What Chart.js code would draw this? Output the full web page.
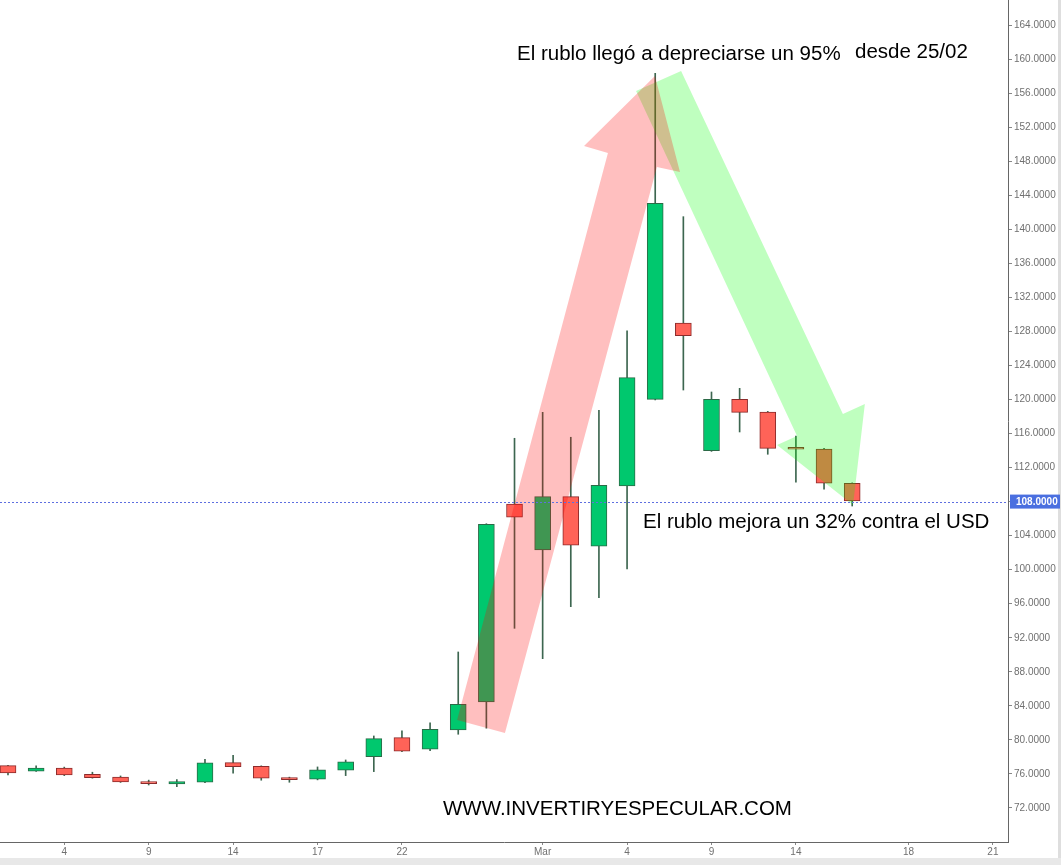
<!DOCTYPE html>
<html>
<head>
<meta charset="utf-8">
<title>USD/RUB</title>
<script src="https://cdn.jsdelivr.net/npm/chart.js@4.4.0/dist/chart.umd.min.js"></script>
<style>
  html, body { margin: 0; padding: 0; background: #fff; }
  #wrap { width: 1061px; height: 865px; }
</style>
</head>
<body>
<div id="wrap"><canvas id="chart" width="1061" height="865"></canvas></div>
<script>
    // Daily candles, one per trading slot (Feb 2 .. Mar 16)
    const opens  = [76.97, 76.31, 76.70, 75.96, 75.64, 75.09, 74.82, 75.02, 77.32, 76.90, 75.56, 75.37, 76.43, 78.03, 80.26, 78.90,
                    81.17, 84.46, 107.72, 102.31, 108.58, 102.75, 109.83, 120.02, 128.99, 113.98, 120.02, 118.53, 114.25, 114.18, 110.15];
    const highs  = [77.00, 76.94, 76.80, 76.20, 75.76, 75.27, 75.33, 77.72, 78.19, 76.95, 75.62, 76.82, 77.64, 80.46, 81.05, 81.99,
                    90.33, 105.40, 115.44, 118.49, 115.56, 118.73, 128.08, 158.32, 141.48, 120.88, 121.31, 118.60, 115.71, 114.25, 110.20];
    const lows   = [75.88, 76.28, 75.80, 75.50, 75.00, 74.70, 74.50, 74.98, 76.08, 75.26, 75.02, 75.30, 75.80, 76.27, 78.60, 78.74,
                    80.66, 81.37, 93.11, 89.54, 95.65, 96.71, 100.08, 119.95, 121.11, 113.90, 116.18, 113.56, 110.27, 109.45, 107.48];
    const closes = [76.11, 76.70, 75.88, 75.56, 75.06, 74.86, 75.09, 77.29, 76.85, 75.49, 75.31, 76.47, 77.41, 80.14, 78.66, 81.25,
                    84.19, 105.33, 106.16, 108.58, 102.87, 109.92, 122.56, 143.05, 127.49, 120.02, 118.49, 114.26, 114.15, 110.15, 108.07];

    // Date labels on the time axis (slot index -> label)
    const tickIdx = [2, 5, 8, 11, 14, 19, 22, 25, 28, 32, 35];
    const tickLabels = ['4', '9', '14', '17', '22', 'Mar', '4', '9', '14', '18', '21'];

    // Price axis
    const yTicks = [72, 76, 80, 84, 88, 92, 96, 100, 104, 108, 112, 116, 120, 124, 128, 132, 136, 140, 144, 148, 152, 156, 160, 164];
    const lastPrice = 108;

    // Hand-drawn arrows, as [slot, price] points
    const pinkArrow = [[15.96, 82.34], [21.32, 148.96], [20.47, 149.78], [22.99, 158.0], [23.88, 146.73], [23.06, 147.32], [17.66, 80.81]];
    const greenArrow = [[22.32, 156.25], [28.04, 115.71], [27.33, 114.65], [30.03, 107.6], [30.45, 119.47], [29.67, 118.29], [23.92, 158.6]];

    const upFill = '#00c86e';
    const upLine = '#2b6a47';
    const downFill = '#ff6358';
    const downLine = '#8c2b2b';
    const wickColor = '#3d6650';
    const font = '"Liberation Sans", Arial, sans-serif';

    const isUp = opens.map((o, i) => closes[i] >= o);

    const wickData = opens.map((o, i) => ({ x: i, y: [lows[i], highs[i]] }));
    const bodyData = opens.map((o, i) => ({ x: i, y: [Math.min(o, closes[i]), Math.max(o, closes[i])] }));

    // Arrows, notes, last price line and label
    const overlay = {
      id: 'overlay',
      beforeDraw(chart) {
        const ctx = chart.ctx;
        ctx.save();
        ctx.fillStyle = '#e8e8e8';
        ctx.fillRect(0, 858, chart.width, chart.height - 858);
        ctx.fillStyle = '#dedede';
        ctx.fillRect(1058, 0, 3, 858);
        ctx.restore();
      },
      afterDatasetsDraw(chart) {
        const ctx = chart.ctx;
        const xs = chart.scales.x;
        const ys = chart.scales.y;
        const area = chart.chartArea;

        function drawShape(points, color) {
          ctx.beginPath();
          points.forEach(([i, v], k) => {
            const px = xs.getPixelForValue(i);
            const py = ys.getPixelForValue(v);
            if (k === 0) ctx.moveTo(px, py); else ctx.lineTo(px, py);
          });
          ctx.closePath();
          ctx.fillStyle = color;
          ctx.fill();
        }

        ctx.save();
        ctx.beginPath();
        ctx.rect(area.left, area.top, area.right - area.left, area.bottom - area.top);
        ctx.clip();
        drawShape(greenArrow, 'rgba(0, 255, 0, 0.25)');
        drawShape(pinkArrow, 'rgba(255, 0, 0, 0.25)');

        // dotted line at last price
        const y = Math.round(ys.getPixelForValue(lastPrice)) + 0.5;
        ctx.strokeStyle = '#5f6fe0';
        ctx.lineWidth = 1;
        ctx.setLineDash([2, 2]);
        ctx.beginPath();
        ctx.moveTo(area.left, y);
        ctx.lineTo(area.right, y);
        ctx.stroke();
        ctx.restore();
      },
      afterDraw(chart) {
        const ctx = chart.ctx;
        const ys = chart.scales.y;
        const area = chart.chartArea;

        ctx.save();
        ctx.fillStyle = '#000';
        ctx.font = '20.5px ' + font;
        ctx.textBaseline = 'alphabetic';
        ctx.textAlign = 'left';
        ctx.fillText('El rublo llegó a depreciarse un 95%', 517, 60);
        ctx.fillText('desde 25/02', 855, 58);
        ctx.fillText('El rublo mejora un 32% contra el USD', 643, 528);
        ctx.fillText('WWW.INVERTIRYESPECULAR.COM', 443, 815);

        // last price label on the axis
        const y = ys.getPixelForValue(lastPrice);
        ctx.fillStyle = '#4a6fe0';
        ctx.fillRect(area.right + 2, y - 7, 50, 14);
        ctx.fillStyle = '#fff';
        ctx.font = 'bold 10px ' + font;
        ctx.textBaseline = 'middle';
        ctx.fillText(lastPrice.toFixed(4), area.right + 8, y + 0.5);
        ctx.restore();
      }
    };

    new Chart(document.getElementById('chart'), {
      type: 'bar',
      data: {
        datasets: [
          {
            label: 'body',
            data: bodyData,
            order: 1,
            grouped: false,
            barThickness: 16,
            minBarLength: 2,
            backgroundColor: isUp.map(u => u ? upFill : downFill),
            borderColor: isUp.map(u => u ? upLine : downLine),
            borderWidth: 1,
            borderSkipped: false
          },
          {
            label: 'wick',
            data: wickData,
            order: 2,
            grouped: false,
            barThickness: 1,
            backgroundColor: wickColor,
            borderWidth: 0
          }
        ]
      },
      options: {
        responsive: false,
        animation: false,
        layout: { padding: 0 },
        plugins: {
          legend: { display: false },
          tooltip: { enabled: false }
        },
        scales: {
          x: {
            type: 'linear',
            min: -0.284,
            max: 35.537,
            offset: false,
            afterBuildTicks: scale => { scale.ticks = tickIdx.map(v => ({ value: v })); },
            afterFit: scale => {
              scale.height = 23;
              scale.paddingLeft = 0;
              scale.paddingRight = 0;
            },
            grid: { display: true, offset: false, drawOnChartArea: false, drawTicks: true, tickLength: 3, color: '#888' },
            border: { display: true, color: '#666' },
            ticks: {
              autoSkip: false,
              maxRotation: 0,
              padding: 1,
              color: '#707070',
              font: { family: font, size: 10 },
              callback: (v, i) => tickLabels[i]
            }
          },
          y: {
            type: 'linear',
            position: 'right',
            min: 68,
            max: 166.94,
            afterBuildTicks: scale => { scale.ticks = yTicks.map(v => ({ value: v })); },
            afterFit: scale => {
              scale.width = 53;
              scale.paddingTop = 0;
              scale.paddingBottom = 0;
            },
            grid: { display: true, offset: false, drawOnChartArea: false, drawTicks: true, tickLength: 4, color: '#888' },
            border: { display: true, color: '#666' },
            ticks: {
              padding: 2,
              color: '#707070',
              font: { family: font, size: 10 },
              callback: v => v.toFixed(4)
            }
          }
        }
      },
      plugins: [overlay]
    });
</script>
</body>
</html>
